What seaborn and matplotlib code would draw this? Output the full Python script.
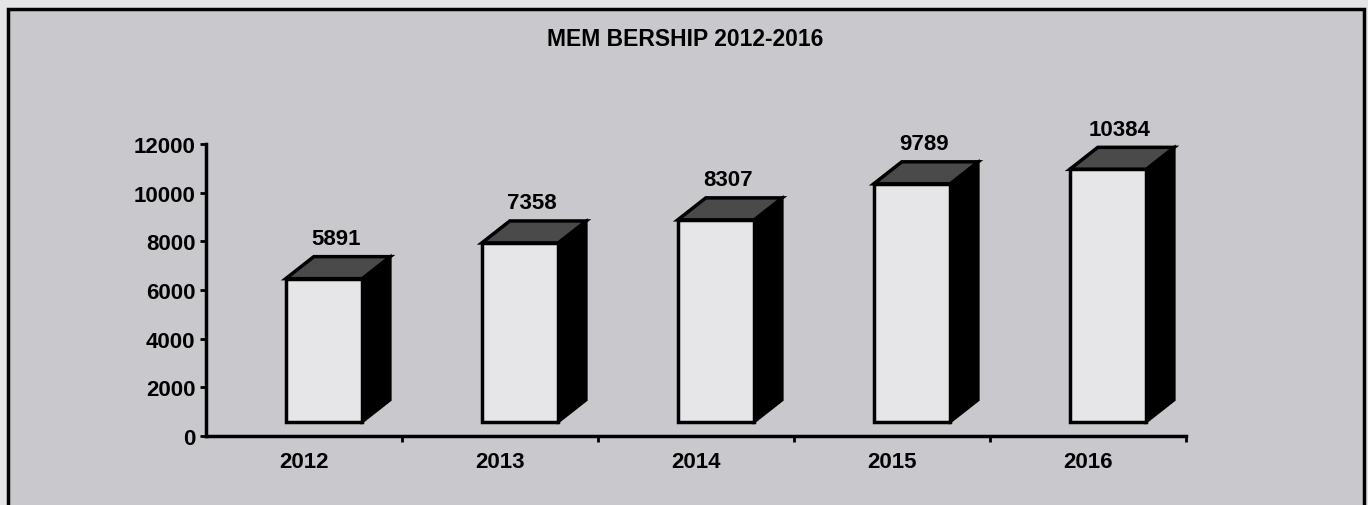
import matplotlib
matplotlib.use('Agg')
import matplotlib.pyplot as plt
import matplotlib.transforms as mtransforms
from matplotlib.patches import Polygon, Rectangle
import seaborn as sns
import pandas as pd

# ---- data ----
years = ['2012', '2013', '2014', '2015', '2016']
members = [5891, 7358, 8307, 9789, 10384]
yticks = [0, 2000, 4000, 6000, 8000, 10000, 12000]
title = 'MEM BERSHIP 2012-2016'

sns.set_theme(style='white')
plt.rcParams['font.family'] = ['Liberation Sans', 'DejaVu Sans']
plt.rcParams['font.weight'] = 'bold'

W, H = 1368, 506
fig = plt.figure(figsize=(W / 100, H / 100), dpi=100)
fig.patch.set_facecolor('#e4e3e6')

# framed chart area (continues past the bottom edge, like the scan)
fig.patches.append(Rectangle((8 / W, -0.1), (1364 - 8) / W, 1 - 10 / H + 0.1,
                             transform=fig.transFigure, facecolor='#c9c8cd',
                             edgecolor='black', linewidth=2.5, zorder=-5))

ax = fig.add_axes([206 / W, 1 - 437 / H, (1186 - 206) / W, (437 - 145) / H])
ax.set_facecolor('none')
ax.set_zorder(2)

df = pd.DataFrame({'year': years, 'members': members})
sns.barplot(data=df, x='year', y='members', width=0.39, color='#e6e6e8',
            saturation=1, edgecolor='black', linewidth=2.5, ax=ax, zorder=4)

ax.set_ylim(0, 12000)
ax.set_xlim(-0.5, 4.5)

# pseudo 3D: shift the front faces, add top and side faces
shift = ax.transData + mtransforms.ScaledTranslation(20 / 100, 14 / 100, fig.dpi_scale_trans)
dx = 0.143   # depth in category units
dy = 904     # depth in value units (~22 px)
for bar in list(ax.patches):
    x0 = bar.get_x()
    x1 = x0 + bar.get_width()
    h = bar.get_height()
    bar.set_transform(shift)
    bar.set_clip_on(False)
    side = Polygon([(x1, 0), (x1, h), (x1 + dx, h + dy), (x1 + dx, dy)], closed=True,
                   facecolor='black', edgecolor='black', linewidth=2, transform=shift,
                   clip_on=False, zorder=3)
    top = Polygon([(x0, h), (x1, h), (x1 + dx, h + dy), (x0 + dx, h + dy)], closed=True,
                  facecolor='#4a4a4a', edgecolor='black', linewidth=2.5, transform=shift,
                  clip_on=False, zorder=3)
    ax.add_patch(side)
    ax.add_patch(top)

for i, v in enumerate(members):
    ax.annotate(f'{v}', xy=(i, v), xytext=(32, 54), textcoords='offset pixels',
                ha='center', va='center', fontsize=16, fontweight='bold', color='black')

ax.set_yticks(yticks)
ax.set_yticklabels([str(t) for t in yticks])
ax.set_xticks(range(len(years)))
ax.set_xticklabels(years)
ax.set_xticks([i + 0.5 for i in range(len(years))], minor=True)
ax.set_xlabel('')
ax.set_ylabel('')

for s in ['top', 'right']:
    ax.spines[s].set_visible(False)
for s in ['left', 'bottom']:
    ax.spines[s].set_color('black')
    ax.spines[s].set_linewidth(2.5)

ax.tick_params(axis='y', which='major', direction='out', left=True, length=4.5, width=2,
               color='black', pad=3, labelsize=16, labelcolor='black')
ax.tick_params(axis='x', which='major', bottom=True, length=0, pad=11, labelsize=16,
               labelcolor='black')
ax.tick_params(axis='x', which='minor', bottom=True, direction='out', length=4.5, width=2,
               color='black')
for lab in ax.get_xticklabels() + ax.get_yticklabels():
    lab.set_fontweight('bold')

fig.text(685 / W, 1 - 40 / H, title, ha='center', va='center', fontsize=16.5,
         fontweight='bold', color='black')

fig.savefig('out.png', dpi=100, facecolor=fig.get_facecolor())
